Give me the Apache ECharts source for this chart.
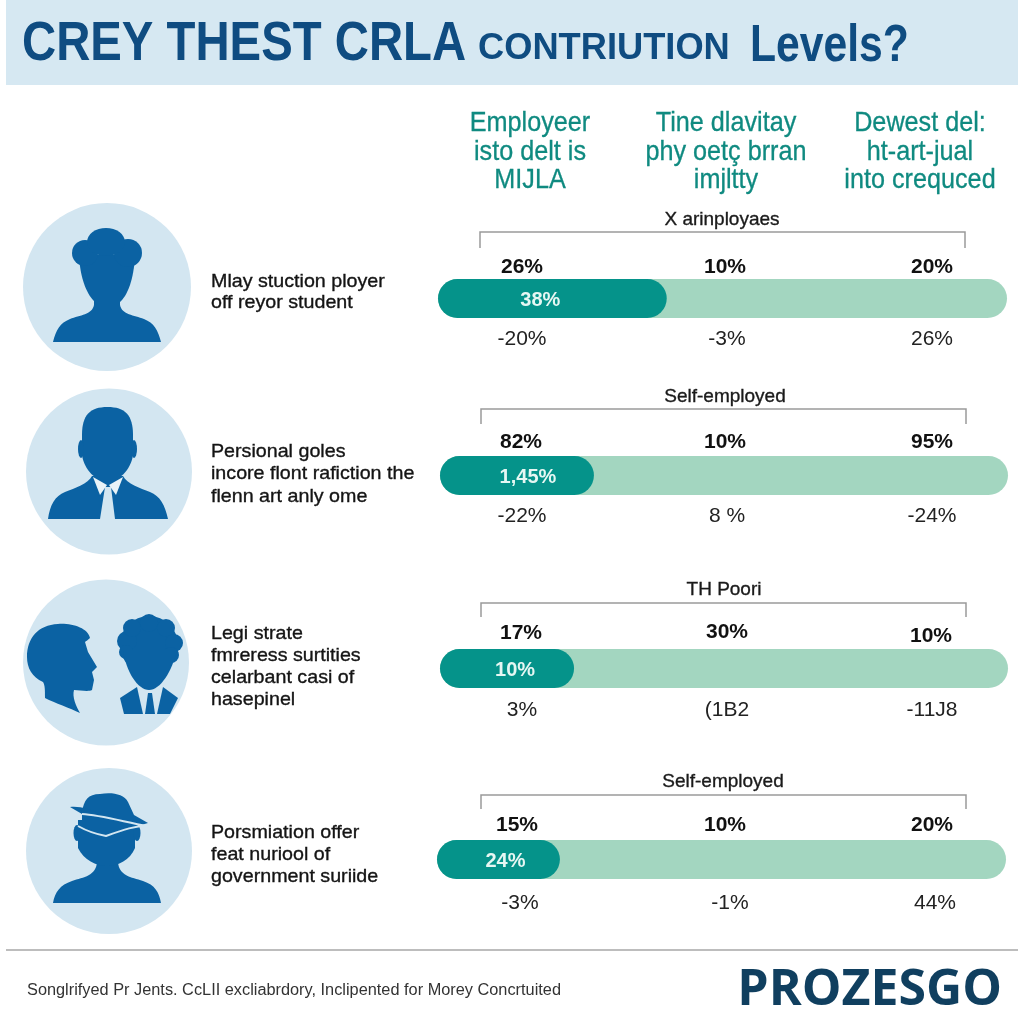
<!DOCTYPE html>
<html>
<head>
<meta charset="utf-8">
<style>html,body{margin:0;padding:0;background:#fff}#c{width:1024px;height:1024px}</style>
<script src="https://cdn.jsdelivr.net/npm/echarts@6/dist/echarts.min.js"></script>
</head>
<body>
<div id="c"></div>
<script>
// ---- chart values ----
const rowHeadings = ['X arinployaes', 'Self-employed', 'TH Poori', 'Self-employed'];
const filledShare = [40.2, 27.1, 23.6, 21.6];
const barLabels = ['38%', '1,45%', '10%', '24%'];
const topLabels = [['26%','10%','20%'],['82%','10%','95%'],['17%','30%','10%'],['15%','10%','20%']];
const bottomLabels = [['-20%','-3%','26%'],['-22%','8 %','-24%'],['3%','(1B2','-11J8'],['-3%','-1%','44%']];
const rowTexts = [
  ['Mlay stuction ployer','off reyor student'],
  ['Persional goles','incore flont rafiction the','flenn art anly ome'],
  ['Legi strate','fmreress surtities','celarbant casi of','hasepinel'],
  ['Porsmiation offer','feat nuriool of','government suriide']
];
const columnHeads = [
  ['Employeer','isto delt is','MIJLA'],
  ['Tine dlavitay','phy oetç brran','imjltty'],
  ['Dewest del:','ht-art-jual','into crequced']
];
const footerText = 'Songlrifyed Pr Jents. CcLII excliabrdory, Inclipented for Morey Concrtuited';
const brandText = 'PROZESGO';

// ---- layout ----
const LIB = '"Liberation Sans",sans-serif';
const SANS = '"Open Sans","Noto Sans",sans-serif';
const BLUE = '#0b62a3', PALE = '#d3e6f1';
const barBox = [[438,279,569,39],[440,456,568,39],[440,649,568,39],[437,840,569,39]];
const labelShift = [-12, 11, 8, 7];
const bracket = [[480,965,232,248],[481,966,409,424],[481,966,603,617],[481,966,795,809]];
const headY = [220,397,590,782];
const headX = [722,725,724,723];
const topY = [[267,267,267],[442,442,442],[633,632,636],[825,825,825]];
const topX = [[522,725,932],[521,725,932],[521,727,931],[517,725,932]];
const botY = [339,516,710,903];
const botX = [[522,727,932],[522,727,932],[522,727,932],[520,730,935]];
const textY = [[282,303],[452,474,497],[634,656,678,700],[833,855,877]];
const circles = [[107,287,84],[109,471.5,83],[106,662.5,83],[109,851,83]];

function t(text,x,y,o,sx){
  return {type:'text',x:x,y:y,scaleX:sx||1,silent:true,style:Object.assign({text:text,textAlign:'center',textVerticalAlign:'middle',fill:'#111',font:'400 18px '+LIB},o||{})};
}
function p(d,fill,extra){
  return {type:'path',shape:{pathData:d},style:Object.assign({fill:fill},extra||{})};
}
function ell(cx,cy,rx,ry){
  ry = ry==null?rx:ry;
  return 'M'+(cx-rx)+' '+cy+' A'+rx+' '+ry+' 0 1 1 '+(cx+rx)+' '+cy+' A'+rx+' '+ry+' 0 1 1 '+(cx-rx)+' '+cy+' Z';
}

const g = [];
// title band
g.push({type:'rect',shape:{x:6,y:0,width:1012,height:85},style:{fill:'#d6e8f2'}});
const titleColor = '#0f4c81';
g.push(t('CREY THEST CRLA',22,45,{textAlign:'left',fill:titleColor,font:'700 55px '+LIB},0.86));
g.push(t('CONTRIUTION',478,49,{textAlign:'left',fill:titleColor,font:'700 37px '+LIB},0.98));
g.push(t('Levels?',750,47,{textAlign:'left',fill:titleColor,font:'700 52px '+LIB},0.82));

// column heads
const colX = [530,726,920], colY = [123,152,180];
columnHeads.forEach((c,i)=>c.forEach((s,j)=>g.push(t(s,colX[i],colY[j],{fill:'#0f8a80',stroke:'#0f8a80',lineWidth:0.3,font:'400 28px '+LIB},0.9))));

// icons, drawn as a custom series so they can use free paths
const icons = [];
circles.forEach(c=>icons.push({type:'circle',shape:{cx:c[0],cy:c[1],r:c[2]},style:{fill:PALE}}));
// icon 1
[ 'M53 342 C56 330 60 323 70 319 C80 315 92 315 94 305 L94 285 L120 285 L120 305 C122 315 134 315 144 319 C154 323 158 330 161 342 Z',
  'M79 255 C80 280 88 296 95 302 L120 302 C127 296 134 280 135 255 Z',
  ell(85,253,13), ell(128,253,14), ell(106,242,19,14)
].forEach(d=>icons.push(p(d,BLUE)));
// icon 2
[ 'M82 435 C82 415 90 407 107.5 407 C125 407 133 415 133 435 L133 455 C131 470 118 482 107.5 482 C97 482 84 470 82 455 Z',
  ell(81,449,3,9), ell(134,449,3,9),
  'M48 519 C50 505 55 496 65 492 C75 488 88 484 92 476 L123 476 C127 484 140 488 150 492 C160 496 165 505 168 519 Z'
].forEach(d=>icons.push(p(d,BLUE)));
icons.push(p('M93 477 L107 485 L100 495 Z','#e9f3f8'));
icons.push(p('M123 477 L109 485 L116 495 Z','#e9f3f8'));
icons.push(p('M105 487 L100 519 L115 519 L111 487 Z',PALE));
// icon 3
icons.push(p('M27 657 C27 638 38 625 58 624 C72 623 88 628 90 638 C88 640 86 641 85 642 L88 652 L97 667 L92 672 L94 680 L92 690 C88 692 80 690 74 690 C72 697 76 706 80 713 C70 708 55 703 45 698 C45 690 45 685 43 682 C32 677 27 668 27 657 Z',BLUE));
[ ell(149,645,29), ell(127,641,10), ell(132,628,9), ell(149,623,9), ell(166,628,9), ell(174,643,9), ell(171,655,8), ell(126,652,7),
  'M123 650 C126 672 138 690 149 690 C160 690 172 672 177 650 Z',
  'M120 698 L137 687 L143 714 L124 714 Z',
  'M163 687 L178 698 L170 714 L157 714 Z',
  'M145 714 L148 693 L152 693 L155 714 Z'
].forEach(d=>icons.push(p(d,BLUE)));
// icon 4
[ 'M53 903 C55 892 60 885 72 881 C84 877 96 876 97 862 L97 850 L118 850 L118 862 C119 876 131 877 143 881 C155 885 159 892 161 903 Z',
  'M78 820 L135 820 L135 848 C130 860 118 866 107 866 C96 866 84 860 78 848 Z',
  ell(77,833,3.5,8), ell(137,833,3.5,8),
  'M82 812 C84 800 88 794 100 794 C112 792 124 794 128 802 L134 815 L148 823 L128 829 L106 836 L82 826 Z',
  'M70 807 C80 806 90 809 100 814 L82 814 Z'
].forEach(d=>icons.push(p(d,BLUE)));
icons.push(p('M82 814 C100 815 125 822 147 826 C135 826 125 829 106 836 C95 834 85 830 78 826',null,{fill:'none',stroke:PALE,lineWidth:2}));

// row texts
rowTexts.forEach((ls,i)=>ls.forEach((s,j)=>g.push(t(s,211,textY[i][j],{textAlign:'left',fill:'#141414',stroke:'#141414',lineWidth:0.35,font:'400 19px '+LIB},1.035))));

// row furniture
rowHeadings.forEach((s,i)=>{
  g.push(t(s,headX[i],headY[i],{font:'400 19px '+LIB,fill:'#1a1a1a',stroke:'#1a1a1a',lineWidth:0.35},1));
  const b = bracket[i];
  g.push({type:'polyline',shape:{points:[[b[0],b[3]],[b[0],b[2]],[b[1],b[2]],[b[1],b[3]]]},style:{fill:'none',stroke:'#9a9a9a',lineWidth:1.5}});
  topLabels[i].forEach((s2,k)=>g.push(t(s2,topX[i][k],topY[i][k],{font:'700 21px '+LIB,fill:'#111'})));
  bottomLabels[i].forEach((s2,k)=>g.push(t(s2,botX[i][k],botY[i],{font:'400 21px '+LIB,fill:'#222'})));
});

// footer
g.push({type:'line',shape:{x1:6,y1:950,x2:1018,y2:950},style:{stroke:'#bdbdbd',lineWidth:2}});
g.push(t(footerText,27,991,{textAlign:'left',font:'400 16px '+LIB,fill:'#333'},1.02));
g.push(t(brandText,1002,991,{textAlign:'right',font:'700 50px '+SANS,fill:'#103f5f'},1.0));

// bars via the library's scales
const grid=[],xAxis=[],yAxis=[],series=[];
barBox.forEach((b,i)=>{
  grid.push({left:b[0],top:b[1],width:b[2],height:b[3]});
  xAxis.push({type:'value',gridIndex:i,min:0,max:100,show:false});
  yAxis.push({type:'category',gridIndex:i,data:[rowHeadings[i]],show:false});
  series.push({type:'bar',xAxisIndex:i,yAxisIndex:i,data:[100],barWidth:'100%',barGap:'-100%',silent:true,
    itemStyle:{color:'#a3d6c0',borderRadius:20}});
  series.push({type:'bar',xAxisIndex:i,yAxisIndex:i,data:[filledShare[i]],barWidth:'100%',barGap:'-100%',silent:true,
    itemStyle:{color:'#05938a',borderRadius:20},
    label:{show:true,position:'inside',offset:[labelShift[i],2],formatter:barLabels[i],color:'#e6f7f3',fontFamily:LIB,fontWeight:700,fontSize:20}});
});
series.push({type:'custom',coordinateSystem:'none',silent:true,z:5,data:[[0]],
  renderItem:function(){ return {type:'group',children:icons}; }});

const chart = echarts.init(document.getElementById('c'),null,{renderer:'canvas'});
chart.setOption({animation:false,backgroundColor:'#fff',grid,xAxis,yAxis,series,graphic:{elements:g}});
</script>
</body>
</html>
